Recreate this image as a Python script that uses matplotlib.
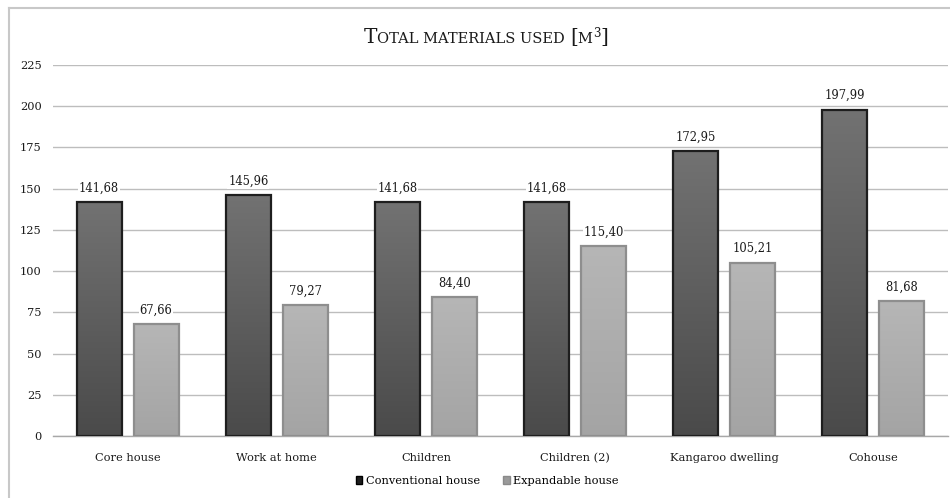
import numpy as np
import matplotlib
matplotlib.use("Agg")
import matplotlib.pyplot as plt
from matplotlib.patches import Rectangle
from matplotlib.lines import Line2D

categories = ["Core house", "Work at home", "Children", "Children (2)",
              "Kangaroo dwelling", "Cohouse"]
conventional = [141.68, 145.96, 141.68, 141.68, 172.95, 197.99]
expandable = [67.66, 79.27, 84.40, 115.40, 105.21, 81.68]
series_names = ["Conventional house", "Expandable house"]
yticks = [0, 25, 50, 75, 100, 125, 150, 175, 200, 225]

FONT = "DejaVu Serif"
plt.rcParams["font.family"] = FONT

W, H = 950, 498
fig = plt.figure(figsize=(W / 100, H / 100), dpi=100)
ax = fig.add_axes([53 / W, 1 - 436 / H, 895 / W, (436 - 65) / H])

x = np.arange(len(categories))
offset = 0.191
bw = 0.302


def gradient_bar(ax, xc, h, top_col, bot_col, edge):
    grad = np.linspace(0, 1, 256).reshape(-1, 1)
    c0 = np.array(matplotlib.colors.to_rgb(top_col))
    c1 = np.array(matplotlib.colors.to_rgb(bot_col))
    img = c0[None, None, :] * (1 - grad[:, :, None]) + c1[None, None, :] * grad[:, :, None]
    im = ax.imshow(img, extent=[xc - bw / 2, xc + bw / 2, 0, h], origin="upper",
                   aspect="auto", zorder=3, interpolation="bilinear")
    rect = Rectangle((xc - bw / 2, 0), bw, h, facecolor="none", edgecolor=edge,
                     linewidth=1.6, zorder=4)
    ax.add_patch(rect)
    im.set_clip_path(rect)


for i in range(len(categories)):
    gradient_bar(ax, x[i] - offset, conventional[i], "#727272", "#4a4a4a", "#1e1e1e")
    gradient_bar(ax, x[i] + offset, expandable[i], "#b6b6b6", "#a4a4a4", "#8e8e8e")
    for xc, v in ((x[i] - offset, conventional[i]), (x[i] + offset, expandable[i])):
        ax.text(xc, v + 4.5, f"{v:.2f}".replace(".", ","), ha="center", va="bottom",
                fontsize=8.3, color="#1a1a1a", zorder=5,
                bbox=dict(facecolor="white", edgecolor="none", pad=0.5))

ax.set_xlim(-0.5, len(categories) - 0.5)
ax.set_ylim(0, 225)
ax.set_yticks(yticks)
ax.set_xticks(x)
ax.set_xticklabels(categories, fontsize=8.2, color="#1a1a1a")
ax.tick_params(axis="y", length=0, pad=8, labelsize=8.2, labelcolor="#1a1a1a")
ax.tick_params(axis="x", length=0, pad=12)
ax.grid(axis="y", color="#bdbdbd", linewidth=1.0, zorder=0)
ax.set_axisbelow(True)
for s in ("top", "right", "left"):
    ax.spines[s].set_visible(False)
ax.spines["bottom"].set_color("#a8a8a8")
ax.spines["bottom"].set_linewidth(1.0)

# outer chart frame
fig.add_artist(Line2D([9 / W, 1], [1 - 8 / H, 1 - 8 / H], color="#c8c8c8",
                      linewidth=1.5, transform=fig.transFigure))
fig.add_artist(Line2D([9 / W, 9 / W], [0, 1 - 8 / H], color="#c8c8c8",
                      linewidth=1.5, transform=fig.transFigure))

# legend
handles = [Rectangle((0, 0), 1, 1, facecolor="#1e1e1e", edgecolor="#000000"),
           Rectangle((0, 0), 1, 1, facecolor="#9a9a9a", edgecolor="#8a8a8a")]
fig.legend(handles, series_names, loc="center", bbox_to_anchor=(487 / W, 1 - 481 / H),
           ncol=2, frameon=False, fontsize=8.2, handlelength=0.6, handleheight=0.6,
           handletextpad=0.3, columnspacing=2.0)

# small-caps title
pieces = [("T", 14.5, 0), ("OTAL MATERIALS USED ", 10.5, 0), ("[", 14.5, 0),
          ("M", 10.5, 0), ("3", 8.5, 6), ("]", 14.5, 0)]
baseline = 1 - 43 / H
fig.canvas.draw()
renderer = fig.canvas.get_renderer()
texts = []
xpos = 0.0
for s, size, rise in pieces:
    t = fig.text(xpos, baseline + rise / H, s, fontsize=size, ha="left",
                 va="baseline", color="#1a1a1a")
    bb = t.get_window_extent(renderer)
    texts.append((t, xpos))
    xpos += bb.width / W
start = 486 / W - xpos / 2
for t, xp in texts:
    t.set_x(start + xp)

fig.savefig("out.png", dpi=100)
